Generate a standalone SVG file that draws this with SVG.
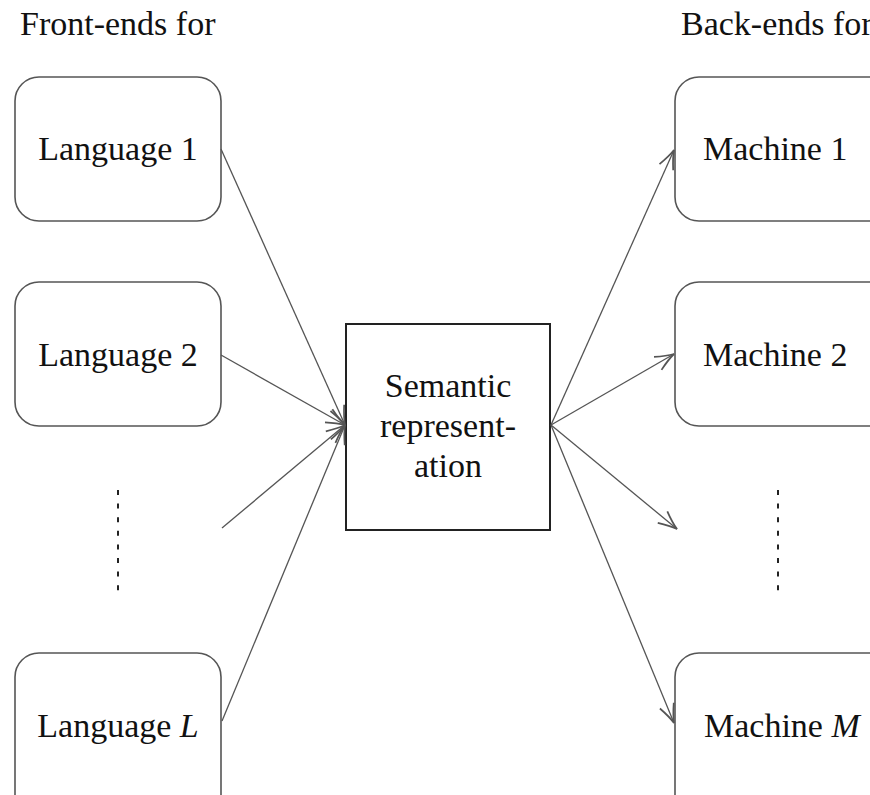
<svg xmlns="http://www.w3.org/2000/svg" width="870" height="795" viewBox="0 0 870 795">
<style>
.t{font-family:'Liberation Serif','Times New Roman','DejaVu Serif',serif;font-size:34px;fill:#111}
.c{text-anchor:middle}
.box{fill:#fff;stroke:#555;stroke-width:1.6}
.cbox{fill:#fff;stroke:#222;stroke-width:2}
.ln{stroke:#555;stroke-width:1.3;fill:none}
.dot{stroke:#222;stroke-width:2;stroke-dasharray:5 8.6;fill:none}
</style>
<defs>
<marker id="ah" markerUnits="userSpaceOnUse" markerWidth="30" markerHeight="30" viewBox="-20 -10 24 20" refX="0" refY="0" orient="auto">
<path d="M-15,-6 Q-6,-1.5 0,0 Q-6,1.5 -15,6" fill="none" stroke="#555" stroke-width="1.4"/>
</marker>
</defs>
<rect width="870" height="795" fill="#fff"/>
<g font-family="Liberation Serif, Times New Roman, DejaVu Serif, serif">
<text class="t" x="20" y="35">Front-ends for</text>
<text class="t" x="681" y="35">Back-ends for</text>
<g id="lang1"><rect class="box" x="15" y="77" width="206" height="144" rx="24"/><text class="t c" x="118" y="160">Language 1</text></g>
<g id="lang2"><rect class="box" x="15" y="282" width="206" height="144" rx="24"/><text class="t c" x="118" y="366">Language 2</text></g>
<g id="langL"><rect class="box" x="15" y="653" width="206" height="180" rx="24"/><text class="t c" x="118" y="737">Language <tspan font-style="italic">L</tspan></text></g>
<g id="mach1"><rect class="box" x="675" y="77" width="240" height="144" rx="24"/><text class="t" x="703" y="160">Machine 1</text></g>
<g id="mach2"><rect class="box" x="675" y="282" width="240" height="144" rx="24"/><text class="t" x="703" y="366">Machine 2</text></g>
<g id="machM"><rect class="box" x="675" y="653" width="240" height="180" rx="24"/><text class="t" x="704" y="737">Machine <tspan font-style="italic">M</tspan></text></g>
<g id="sem"><rect class="cbox" x="346" y="324" width="204" height="206"/>
<text class="t c" x="448" y="397">Semantic</text>
<text class="t c" x="448" y="437">represent-</text>
<text class="t c" x="448" y="477">ation</text></g>
</g>
<g id="dots"><line class="dot" x1="118" y1="490" x2="118" y2="595"/><line class="dot" x1="778" y1="490" x2="778" y2="595"/></g>
<g id="connectors">
<line class="ln" x1="221" y1="149" x2="345" y2="425" marker-end="url(#ah)"/>
<line class="ln" x1="221" y1="355" x2="345" y2="425" marker-end="url(#ah)"/>
<line class="ln" x1="222" y1="528" x2="345" y2="425" marker-end="url(#ah)"/>
<line class="ln" x1="222" y1="721" x2="345" y2="425" marker-end="url(#ah)"/>
<line class="ln" x1="551" y1="425" x2="674" y2="150" marker-end="url(#ah)"/>
<line class="ln" x1="551" y1="425" x2="674" y2="354" marker-end="url(#ah)"/>
<line class="ln" x1="551" y1="425" x2="677" y2="529" marker-end="url(#ah)"/>
<line class="ln" x1="551" y1="425" x2="674" y2="723" marker-end="url(#ah)"/>
</g>
</svg>
